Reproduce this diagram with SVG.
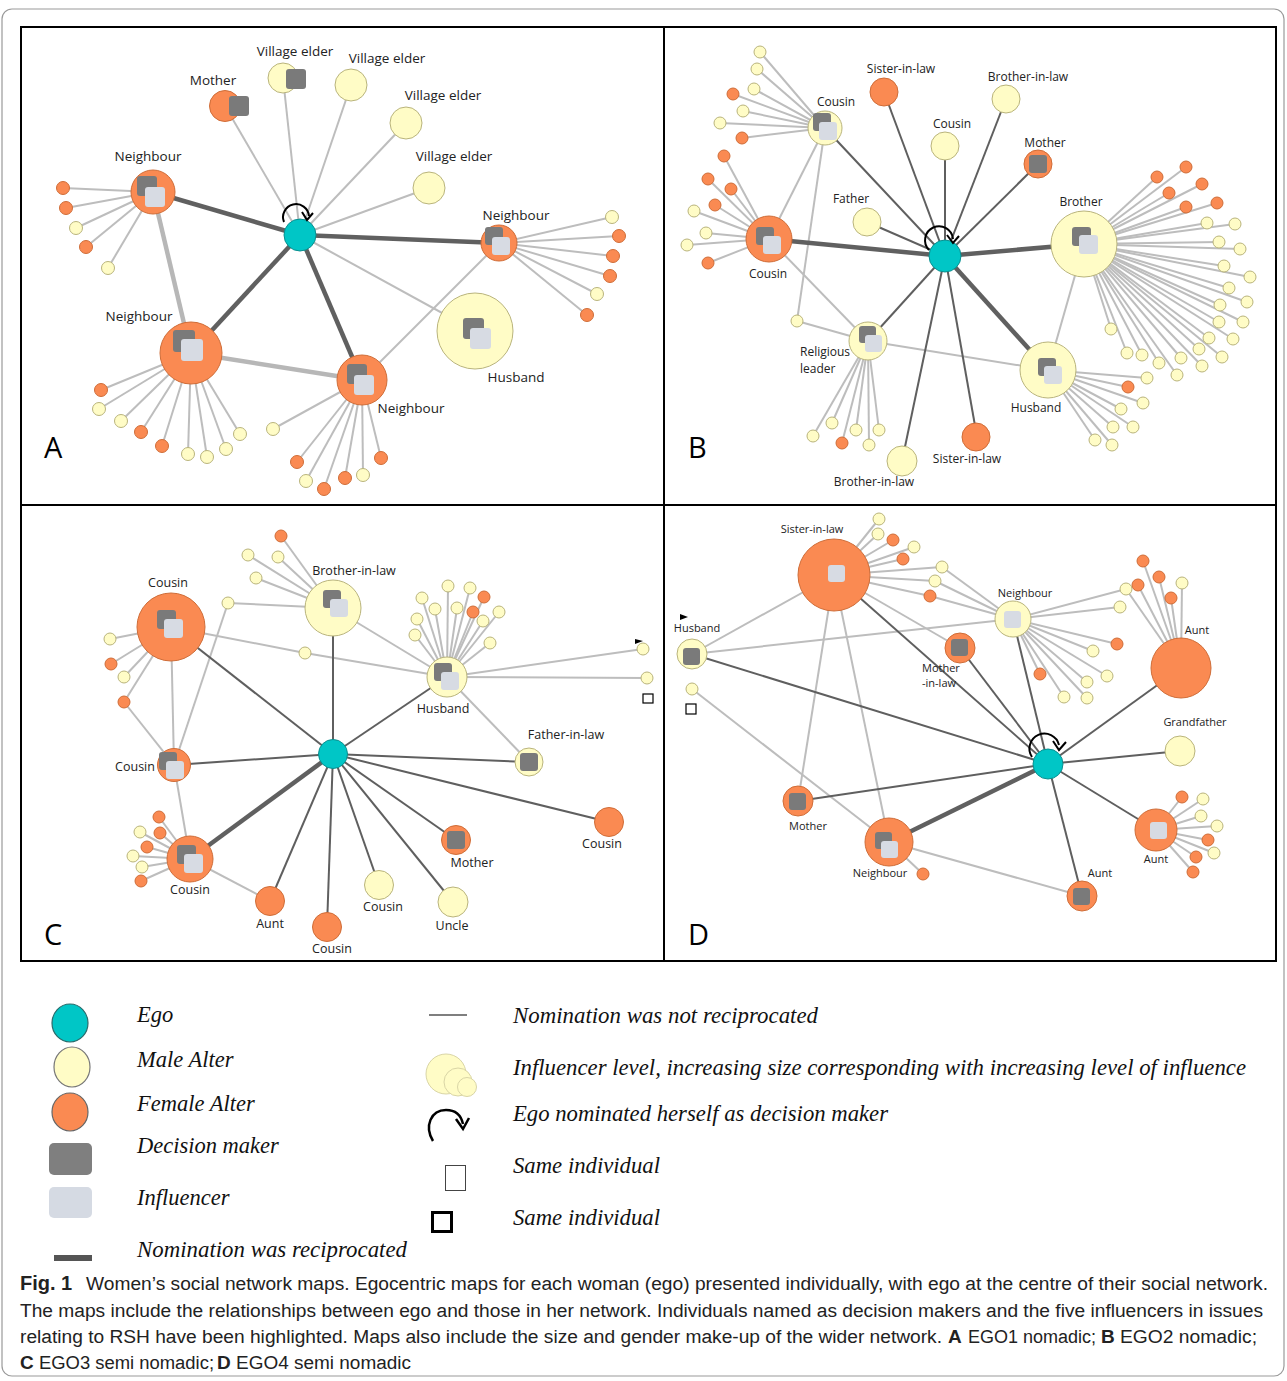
<svg xmlns="http://www.w3.org/2000/svg" width="1287" height="1381" viewBox="0 0 1287 1381">
<style>
.m{fill:#fffcc6;stroke:#b9b47c;stroke-width:1}
.f{fill:#fa8a52;stroke:#cf6d38;stroke-width:1}
.e{fill:#00c6c6;stroke:#0b8f8f;stroke-width:1}
.dm{fill:#7a7a7a}
.in{fill:#d7dbe3}
.lt{stroke:#bdbdbd;stroke-width:2}
.lk{stroke:#b7b7b7;stroke-width:4.5}
.dk{stroke:#5f5f5f;stroke-width:2}
.rc{stroke:#606060;stroke-width:4.5}
.loop{fill:none;stroke:#000;stroke-width:2}
.t{font-family:"Open Sans","DejaVu Sans",sans-serif;fill:#222;text-anchor:middle}
.ta{font-size:13.5px}
.tb{font-size:12px}
.tc{font-size:12.5px}
.td{font-size:11px}
.pl{font-family:"Open Sans","Liberation Sans",sans-serif;font-size:29px;fill:#000}
.lg{font-family:"Liberation Serif",serif;font-style:italic;font-size:22.5px;fill:#111}
.cap{font-family:"Liberation Sans",sans-serif;font-size:18px;fill:#222}
.cb{font-weight:bold;font-size:19px}
</style>
<rect x="2" y="9" width="1282" height="1367" rx="10" fill="#fff" stroke="#9a9a9a" stroke-width="1.2"/>
<rect x="21" y="27" width="1255" height="934" fill="none" stroke="#000" stroke-width="2"/>
<line x1="664" y1="27" x2="664" y2="961" stroke="#000" stroke-width="2"/>
<line x1="21" y1="505" x2="1276" y2="505" stroke="#000" stroke-width="2"/>
<text class="pl" x="44" y="458">A</text>
<text class="pl" x="688" y="458">B</text>
<text class="pl" x="44" y="945">C</text>
<text class="pl" x="688" y="945">D</text>

<g id="connectors" fill="none">
<!-- Panel A -->
<line class="lt" x1="300" y1="235" x2="225" y2="106"/>
<line class="lt" x1="300" y1="235" x2="283" y2="78"/>
<line class="lt" x1="300" y1="235" x2="351" y2="85"/>
<line class="lt" x1="300" y1="235" x2="406" y2="123"/>
<line class="lt" x1="300" y1="235" x2="429" y2="188"/>
<line class="lt" x1="300" y1="235" x2="475" y2="331"/>
<line class="lt" x1="362" y1="380" x2="499" y2="243"/>
<line class="lk" x1="153" y1="192" x2="191" y2="353"/>
<line class="lk" x1="191" y1="353" x2="362" y2="380"/>
<line class="rc" x1="300" y1="235" x2="153" y2="192"/>
<line class="rc" x1="300" y1="235" x2="499" y2="243"/>
<line class="rc" x1="300" y1="235" x2="191" y2="353"/>
<line class="rc" x1="300" y1="235" x2="362" y2="380"/>
<line class="lt" x1="153" y1="192" x2="63" y2="188"/>
<line class="lt" x1="153" y1="192" x2="66" y2="208"/>
<line class="lt" x1="153" y1="192" x2="76" y2="228"/>
<line class="lt" x1="153" y1="192" x2="86" y2="247"/>
<line class="lt" x1="153" y1="192" x2="108" y2="268"/>
<line class="lt" x1="191" y1="353" x2="101" y2="390"/>
<line class="lt" x1="191" y1="353" x2="99" y2="409"/>
<line class="lt" x1="191" y1="353" x2="121" y2="421"/>
<line class="lt" x1="191" y1="353" x2="141" y2="432"/>
<line class="lt" x1="191" y1="353" x2="162" y2="446"/>
<line class="lt" x1="191" y1="353" x2="188" y2="454"/>
<line class="lt" x1="191" y1="353" x2="207" y2="457"/>
<line class="lt" x1="191" y1="353" x2="226" y2="449"/>
<line class="lt" x1="191" y1="353" x2="240" y2="434"/>
<line class="lt" x1="362" y1="380" x2="273" y2="429"/>
<line class="lt" x1="362" y1="380" x2="297" y2="462"/>
<line class="lt" x1="362" y1="380" x2="306" y2="481"/>
<line class="lt" x1="362" y1="380" x2="324" y2="489"/>
<line class="lt" x1="362" y1="380" x2="345" y2="478"/>
<line class="lt" x1="362" y1="380" x2="363" y2="475"/>
<line class="lt" x1="362" y1="380" x2="381" y2="458"/>
<line class="lt" x1="499" y1="243" x2="612" y2="217"/>
<line class="lt" x1="499" y1="243" x2="619" y2="236"/>
<line class="lt" x1="499" y1="243" x2="613" y2="256"/>
<line class="lt" x1="499" y1="243" x2="610" y2="276"/>
<line class="lt" x1="499" y1="243" x2="597" y2="294"/>
<line class="lt" x1="499" y1="243" x2="587" y2="315"/>
<!-- Panel B -->
<line class="lt" x1="825" y1="128" x2="769" y2="239"/>
<line class="lt" x1="825" y1="128" x2="797" y2="321"/>
<line class="lt" x1="797" y1="321" x2="868" y2="341"/>
<line class="lt" x1="769" y1="239" x2="868" y2="341"/>
<line class="lt" x1="868" y1="341" x2="1048" y2="370"/>
<line class="lt" x1="1084" y1="244" x2="1048" y2="370"/>
<line class="dk" x1="945" y1="256" x2="825" y2="128"/>
<line class="dk" x1="945" y1="256" x2="867" y2="222"/>
<line class="dk" x1="945" y1="256" x2="884" y2="92"/>
<line class="dk" x1="945" y1="256" x2="945" y2="146"/>
<line class="dk" x1="945" y1="256" x2="1006" y2="99"/>
<line class="dk" x1="945" y1="256" x2="1038" y2="164"/>
<line class="dk" x1="945" y1="256" x2="868" y2="341"/>
<line class="dk" x1="945" y1="256" x2="902" y2="461"/>
<line class="dk" x1="945" y1="256" x2="977" y2="437"/>
<line class="rc" x1="945" y1="256" x2="769" y2="239"/>
<line class="rc" x1="945" y1="256" x2="1084" y2="244"/>
<line class="rc" x1="945" y1="256" x2="1048" y2="370"/>
<line class="lt" x1="825" y1="128" x2="760" y2="52"/>
<line class="lt" x1="825" y1="128" x2="757" y2="69"/>
<line class="lt" x1="825" y1="128" x2="754" y2="89"/>
<line class="lt" x1="825" y1="128" x2="733" y2="94"/>
<line class="lt" x1="825" y1="128" x2="743" y2="111"/>
<line class="lt" x1="825" y1="128" x2="720" y2="123"/>
<line class="lt" x1="825" y1="128" x2="742" y2="138"/>
<line class="lt" x1="769" y1="239" x2="724" y2="156"/>
<line class="lt" x1="769" y1="239" x2="708" y2="179"/>
<line class="lt" x1="769" y1="239" x2="731" y2="189"/>
<line class="lt" x1="769" y1="239" x2="715" y2="205"/>
<line class="lt" x1="769" y1="239" x2="694" y2="211"/>
<line class="lt" x1="769" y1="239" x2="706" y2="233"/>
<line class="lt" x1="769" y1="239" x2="687" y2="245"/>
<line class="lt" x1="769" y1="239" x2="708" y2="263"/>
<line class="lt" x1="868" y1="341" x2="813" y2="436"/>
<line class="lt" x1="868" y1="341" x2="832" y2="423"/>
<line class="lt" x1="868" y1="341" x2="842" y2="443"/>
<line class="lt" x1="868" y1="341" x2="856" y2="430"/>
<line class="lt" x1="868" y1="341" x2="869" y2="445"/>
<line class="lt" x1="868" y1="341" x2="879" y2="430"/>
<g class="lt">
<line x1="1084" y1="244" x2="1157" y2="177"/><line x1="1084" y1="244" x2="1186" y2="167"/><line x1="1084" y1="244" x2="1169" y2="193"/><line x1="1084" y1="244" x2="1202" y2="184"/><line x1="1084" y1="244" x2="1186" y2="207"/><line x1="1084" y1="244" x2="1217" y2="203"/>
<line x1="1084" y1="244" x2="1207" y2="223"/><line x1="1084" y1="244" x2="1235" y2="224"/><line x1="1084" y1="244" x2="1219" y2="242"/><line x1="1084" y1="244" x2="1240" y2="249"/><line x1="1084" y1="244" x2="1224" y2="266"/><line x1="1084" y1="244" x2="1250" y2="277"/><line x1="1084" y1="244" x2="1229" y2="288"/><line x1="1084" y1="244" x2="1247" y2="302"/><line x1="1084" y1="244" x2="1220" y2="305"/><line x1="1084" y1="244" x2="1243" y2="322"/><line x1="1084" y1="244" x2="1219" y2="322"/><line x1="1084" y1="244" x2="1209" y2="338"/><line x1="1084" y1="244" x2="1233" y2="339"/><line x1="1084" y1="244" x2="1199" y2="349"/><line x1="1084" y1="244" x2="1222" y2="357"/><line x1="1084" y1="244" x2="1181" y2="358"/><line x1="1084" y1="244" x2="1202" y2="366"/><line x1="1084" y1="244" x2="1177" y2="375"/><line x1="1084" y1="244" x2="1159" y2="363"/><line x1="1084" y1="244" x2="1142" y2="355"/><line x1="1084" y1="244" x2="1127" y2="353"/><line x1="1084" y1="244" x2="1111" y2="329"/>
<line x1="1048" y1="370" x2="1147" y2="378"/><line x1="1048" y1="370" x2="1128" y2="387"/><line x1="1048" y1="370" x2="1143" y2="403"/><line x1="1048" y1="370" x2="1121" y2="409"/><line x1="1048" y1="370" x2="1133" y2="427"/><line x1="1048" y1="370" x2="1113" y2="427"/><line x1="1048" y1="370" x2="1095" y2="440"/><line x1="1048" y1="370" x2="1112" y2="445"/>
</g>
<!-- Panel C -->
<g class="lt">
<line x1="171" y1="627" x2="174" y2="765"/><line x1="174" y1="765" x2="190" y2="859"/><line x1="190" y1="859" x2="270" y2="901"/>
<line x1="228" y1="603" x2="333" y2="608"/><line x1="228" y1="603" x2="174" y2="765"/>
<line x1="171" y1="627" x2="305" y2="653"/><line x1="305" y1="653" x2="447" y2="677"/>
<line x1="333" y1="608" x2="447" y2="677"/><line x1="447" y1="677" x2="529" y2="762"/>
<line x1="124" y1="702" x2="174" y2="765"/>
<line x1="171" y1="627" x2="110" y2="639"/><line x1="171" y1="627" x2="111" y2="664"/><line x1="171" y1="627" x2="124" y2="677"/><line x1="171" y1="627" x2="124" y2="702"/>
<line x1="333" y1="608" x2="281" y2="536"/><line x1="333" y1="608" x2="248" y2="555"/><line x1="333" y1="608" x2="278" y2="557"/><line x1="333" y1="608" x2="256" y2="578"/>
<line x1="447" y1="677" x2="448" y2="586"/><line x1="447" y1="677" x2="470" y2="588"/><line x1="447" y1="677" x2="484" y2="597"/><line x1="447" y1="677" x2="422" y2="598"/><line x1="447" y1="677" x2="435" y2="609"/><line x1="447" y1="677" x2="457" y2="608"/><line x1="447" y1="677" x2="473" y2="612"/><line x1="447" y1="677" x2="499" y2="612"/><line x1="447" y1="677" x2="417" y2="619"/><line x1="447" y1="677" x2="483" y2="621"/><line x1="447" y1="677" x2="415" y2="635"/><line x1="447" y1="677" x2="490" y2="643"/><line x1="447" y1="677" x2="643" y2="649"/><line x1="447" y1="677" x2="647" y2="678"/>
<line x1="190" y1="859" x2="159" y2="817"/><line x1="190" y1="859" x2="140" y2="832"/><line x1="190" y1="859" x2="160" y2="833"/><line x1="190" y1="859" x2="147" y2="847"/><line x1="190" y1="859" x2="133" y2="856"/><line x1="190" y1="859" x2="142" y2="867"/><line x1="190" y1="859" x2="141" y2="881"/>
</g>
<g class="dk">
<line x1="333" y1="754" x2="171" y2="627"/><line x1="333" y1="754" x2="174" y2="765"/><line x1="333" y1="754" x2="333" y2="608"/><line x1="333" y1="754" x2="447" y2="677"/><line x1="333" y1="754" x2="529" y2="762"/><line x1="333" y1="754" x2="609" y2="822"/><line x1="333" y1="754" x2="456" y2="840"/><line x1="333" y1="754" x2="453" y2="902"/><line x1="333" y1="754" x2="379" y2="885"/><line x1="333" y1="754" x2="327" y2="927"/><line x1="333" y1="754" x2="270" y2="901"/>
</g>
<line class="rc" x1="333" y1="754" x2="190" y2="859"/>
<!-- Panel D -->
<g class="lt">
<line x1="692" y1="654" x2="834" y2="575"/><line x1="692" y1="654" x2="1013" y2="619"/><line x1="692" y1="689" x2="889" y2="842"/>
<line x1="834" y1="575" x2="798" y2="801"/><line x1="834" y1="575" x2="889" y2="842"/><line x1="834" y1="575" x2="960" y2="648"/>
<line x1="889" y1="842" x2="1082" y2="896"/><line x1="889" y1="842" x2="923" y2="874"/>
<line x1="834" y1="575" x2="879" y2="519"/><line x1="834" y1="575" x2="878" y2="534"/><line x1="834" y1="575" x2="893" y2="540"/><line x1="834" y1="575" x2="914" y2="547"/><line x1="834" y1="575" x2="903" y2="559"/><line x1="834" y1="575" x2="942" y2="567"/><line x1="834" y1="575" x2="935" y2="581"/><line x1="834" y1="575" x2="930" y2="596"/>
<line x1="1013" y1="619" x2="942" y2="567"/><line x1="1013" y1="619" x2="935" y2="581"/><line x1="1013" y1="619" x2="930" y2="596"/>
<line x1="1013" y1="619" x2="1126" y2="589"/><line x1="1013" y1="619" x2="1120" y2="607"/><line x1="1013" y1="619" x2="1117" y2="644"/><line x1="1013" y1="619" x2="1093" y2="651"/><line x1="1013" y1="619" x2="1040" y2="674"/><line x1="1013" y1="619" x2="1107" y2="676"/><line x1="1013" y1="619" x2="1087" y2="682"/><line x1="1013" y1="619" x2="1064" y2="697"/><line x1="1013" y1="619" x2="1087" y2="698"/>
<line x1="1181" y1="668" x2="1143" y2="561"/><line x1="1181" y1="668" x2="1159" y2="577"/><line x1="1181" y1="668" x2="1138" y2="585"/><line x1="1181" y1="668" x2="1182" y2="583"/><line x1="1181" y1="668" x2="1171" y2="598"/><line x1="1181" y1="668" x2="1126" y2="589"/>
<line x1="1156" y1="830" x2="1182" y2="797"/><line x1="1156" y1="830" x2="1203" y2="799"/><line x1="1156" y1="830" x2="1201" y2="816"/><line x1="1156" y1="830" x2="1217" y2="826"/><line x1="1156" y1="830" x2="1208" y2="840"/><line x1="1156" y1="830" x2="1214" y2="853"/><line x1="1156" y1="830" x2="1196" y2="857"/><line x1="1156" y1="830" x2="1193" y2="872"/>
</g>
<g class="dk">
<line x1="1048" y1="764" x2="834" y2="575"/><line x1="1048" y1="764" x2="692" y2="654"/><line x1="1048" y1="764" x2="960" y2="648"/><line x1="1048" y1="764" x2="1013" y2="619"/><line x1="1048" y1="764" x2="798" y2="801"/><line x1="1048" y1="764" x2="1181" y2="668"/><line x1="1048" y1="764" x2="1180" y2="751"/><line x1="1048" y1="764" x2="1156" y2="830"/><line x1="1048" y1="764" x2="1082" y2="896"/>
</g>
<line class="rc" x1="1048" y1="764" x2="889" y2="842"/>
</g>

<!-- ===== Panel A nodes ===== -->
<g id="A-ego"><circle class="e" cx="300" cy="235" r="16"/><path class="loop" d="M284,222 A13,13 0 1 1 309,216"/><polyline class="loop" points="302,212 307,220 313,213"/></g>
<g id="A-mother"><circle class="f" cx="225" cy="106" r="15.5"/><rect class="dm" x="229" y="96" width="20" height="20" rx="3"/><text class="t ta" x="213" y="85">Mother</text></g>
<g id="A-elder1"><circle class="m" cx="283" cy="78" r="15"/><rect class="dm" x="286" y="69" width="20" height="20" rx="3"/><text class="t ta" x="295" y="56">Village elder</text></g>
<g id="A-elder2"><circle class="m" cx="351" cy="85" r="16"/><text class="t ta" x="387" y="63">Village elder</text></g>
<g id="A-elder3"><circle class="m" cx="406" cy="123" r="16"/><text class="t ta" x="443" y="100">Village elder</text></g>
<g id="A-elder4"><circle class="m" cx="429" cy="188" r="16"/><text class="t ta" x="454" y="161">Village elder</text></g>
<g id="A-neigh1"><circle class="f" cx="153" cy="192" r="22"/><rect class="dm" x="137" y="176" width="20" height="20" rx="3"/><rect class="in" x="145" y="187" width="20" height="20" rx="3"/><text class="t ta" x="148" y="161">Neighbour</text></g>
<g id="A-neigh2"><circle class="f" cx="191" cy="353" r="31"/><rect class="dm" x="173" y="330" width="22" height="22" rx="3"/><rect class="in" x="181" y="339" width="22" height="22" rx="3"/><text class="t ta" x="139" y="321">Neighbour</text></g>
<g id="A-neigh3"><circle class="f" cx="362" cy="380" r="25"/><rect class="dm" x="347" y="364" width="20" height="20" rx="3"/><rect class="in" x="354" y="375" width="20" height="20" rx="3"/><text class="t ta" x="411" y="413">Neighbour</text></g>
<g id="A-neigh4"><circle class="f" cx="499" cy="243" r="18"/><rect class="dm" x="485" y="227" width="18" height="18" rx="3"/><rect class="in" x="492" y="237" width="18" height="18" rx="3"/><text class="t ta" x="516" y="220">Neighbour</text></g>
<g id="A-husband"><circle class="m" cx="475" cy="331" r="38"/><rect class="dm" x="463" y="318" width="21" height="21" rx="3"/><rect class="in" x="470" y="328" width="21" height="21" rx="3"/><text class="t ta" x="516" y="382">Husband</text></g>
<g id="A-n1-l1"><circle class="f" cx="63" cy="188" r="6.5"/></g>
<g id="A-n1-l2"><circle class="f" cx="66" cy="208" r="6.5"/></g>
<g id="A-n1-l3"><circle class="m" cx="76" cy="228" r="6.5"/></g>
<g id="A-n1-l4"><circle class="f" cx="86" cy="247" r="6.5"/></g>
<g id="A-n1-l5"><circle class="m" cx="108" cy="268" r="6.5"/></g>
<g id="A-n2-l1"><circle class="f" cx="101" cy="390" r="6.5"/></g>
<g id="A-n2-l2"><circle class="m" cx="99" cy="409" r="6.5"/></g>
<g id="A-n2-l3"><circle class="m" cx="121" cy="421" r="6.5"/></g>
<g id="A-n2-l4"><circle class="f" cx="141" cy="432" r="6.5"/></g>
<g id="A-n2-l5"><circle class="f" cx="162" cy="446" r="6.5"/></g>
<g id="A-n2-l6"><circle class="m" cx="188" cy="454" r="6.5"/></g>
<g id="A-n2-l7"><circle class="m" cx="207" cy="457" r="6.5"/></g>
<g id="A-n2-l8"><circle class="m" cx="226" cy="449" r="6.5"/></g>
<g id="A-n2-l9"><circle class="m" cx="240" cy="434" r="6.5"/></g>
<g id="A-n3-l1"><circle class="m" cx="273" cy="429" r="6.5"/></g>
<g id="A-n3-l2"><circle class="f" cx="297" cy="462" r="6.5"/></g>
<g id="A-n3-l3"><circle class="m" cx="306" cy="481" r="6.5"/></g>
<g id="A-n3-l4"><circle class="f" cx="324" cy="489" r="6.5"/></g>
<g id="A-n3-l5"><circle class="f" cx="345" cy="478" r="6.5"/></g>
<g id="A-n3-l6"><circle class="m" cx="363" cy="475" r="6.5"/></g>
<g id="A-n3-l7"><circle class="f" cx="381" cy="458" r="6.5"/></g>
<g id="A-n4-l1"><circle class="m" cx="612" cy="217" r="6.5"/></g>
<g id="A-n4-l2"><circle class="f" cx="619" cy="236" r="6.5"/></g>
<g id="A-n4-l3"><circle class="f" cx="613" cy="256" r="6.5"/></g>
<g id="A-n4-l4"><circle class="f" cx="610" cy="276" r="6.5"/></g>
<g id="A-n4-l5"><circle class="m" cx="597" cy="294" r="6.5"/></g>
<g id="A-n4-l6"><circle class="f" cx="587" cy="315" r="6.5"/></g>

<!-- ===== Panel B nodes ===== -->
<g id="B-ego"><circle class="e" cx="945" cy="256" r="16"/><path class="loop" d="M929,250 A14,14 0 1 1 953,239"/><polyline class="loop" points="947,235 953,243 959,236"/></g>
<g id="B-cousin1"><circle class="m" cx="825" cy="128" r="17"/><rect class="dm" x="813" y="113" width="18" height="18" rx="3"/><rect class="in" x="819" y="122" width="18" height="18" rx="3"/><text class="t tb" x="836" y="106">Cousin</text></g>
<g id="B-cousin2"><circle class="f" cx="769" cy="239" r="23"/><rect class="dm" x="756" y="227" width="18" height="18" rx="3"/><rect class="in" x="763" y="236" width="18" height="18" rx="3"/><text class="t tb" x="768" y="278">Cousin</text></g>
<g id="B-father"><circle class="m" cx="867" cy="222" r="14"/><text class="t tb" x="851" y="203">Father</text></g>
<g id="B-sil1"><circle class="f" cx="884" cy="92" r="14"/><text class="t tb" x="901" y="73">Sister-in-law</text></g>
<g id="B-cousin3"><circle class="m" cx="945" cy="146" r="14"/><text class="t tb" x="952" y="128">Cousin</text></g>
<g id="B-religious"><circle class="m" cx="868" cy="341" r="19"/><rect class="dm" x="859" y="326" width="17" height="17" rx="3"/><rect class="in" x="865" y="335" width="17" height="17" rx="3"/><text class="t tb" x="800" y="356" style="text-anchor:start">Religious</text><text class="t tb" x="800" y="373" style="text-anchor:start">leader</text></g>
<g id="B-j1"><circle class="m" cx="797" cy="321" r="6"/></g>
<g id="B-bil1"><circle class="m" cx="902" cy="461" r="15"/><text class="t tb" x="874" y="486">Brother-in-law</text></g>
<g id="B-sil2"><circle class="f" cx="976" cy="437" r="14"/><text class="t tb" x="967" y="463">Sister-in-law</text></g>
<g id="B-bil2"><circle class="m" cx="1006" cy="99" r="14"/><text class="t tb" x="1028" y="81">Brother-in-law</text></g>
<g id="B-mother"><circle class="f" cx="1038" cy="164" r="14"/><rect class="dm" x="1029" y="155" width="18" height="18" rx="3"/><text class="t tb" x="1045" y="147">Mother</text></g>
<g id="B-brother"><circle class="m" cx="1084" cy="244" r="33"/><rect class="dm" x="1072" y="227" width="19" height="19" rx="3"/><rect class="in" x="1079" y="235" width="19" height="19" rx="3"/><text class="t tb" x="1081" y="206">Brother</text></g>
<g id="B-husband"><circle class="m" cx="1048" cy="370" r="28"/><rect class="dm" x="1038" y="358" width="18" height="18" rx="3"/><rect class="in" x="1044" y="366" width="18" height="18" rx="3"/><text class="t tb" x="1036" y="412">Husband</text></g>
<g id="B-c1-l1"><circle class="m" cx="760" cy="52" r="6"/></g>
<g id="B-c1-l2"><circle class="m" cx="757" cy="69" r="6"/></g>
<g id="B-c1-l3"><circle class="m" cx="754" cy="89" r="6"/></g>
<g id="B-c1-l4"><circle class="f" cx="733" cy="94" r="6"/></g>
<g id="B-c1-l5"><circle class="m" cx="743" cy="111" r="6"/></g>
<g id="B-c1-l6"><circle class="m" cx="720" cy="123" r="6"/></g>
<g id="B-c1-l7"><circle class="f" cx="742" cy="138" r="6"/></g>
<g id="B-c2-l1"><circle class="f" cx="724" cy="156" r="6"/></g>
<g id="B-c2-l2"><circle class="f" cx="708" cy="179" r="6"/></g>
<g id="B-c2-l3"><circle class="f" cx="731" cy="189" r="6"/></g>
<g id="B-c2-l4"><circle class="f" cx="715" cy="205" r="6"/></g>
<g id="B-c2-l5"><circle class="m" cx="694" cy="211" r="6"/></g>
<g id="B-c2-l6"><circle class="m" cx="706" cy="233" r="6"/></g>
<g id="B-c2-l7"><circle class="m" cx="687" cy="245" r="6"/></g>
<g id="B-c2-l8"><circle class="f" cx="708" cy="263" r="6"/></g>
<g id="B-r-l1"><circle class="m" cx="813" cy="436" r="6"/></g>
<g id="B-r-l2"><circle class="m" cx="832" cy="423" r="6"/></g>
<g id="B-r-l3"><circle class="f" cx="842" cy="443" r="6"/></g>
<g id="B-r-l4"><circle class="m" cx="856" cy="430" r="6"/></g>
<g id="B-r-l5"><circle class="m" cx="869" cy="445" r="6"/></g>
<g id="B-r-l6"><circle class="m" cx="879" cy="430" r="6"/></g>
<g id="B-b-l1"><circle class="f" cx="1157" cy="177" r="6"/></g>
<g id="B-b-l2"><circle class="f" cx="1186" cy="167" r="6"/></g>
<g id="B-b-l3"><circle class="f" cx="1169" cy="193" r="6"/></g>
<g id="B-b-l4"><circle class="f" cx="1202" cy="184" r="6"/></g>
<g id="B-b-l5"><circle class="f" cx="1186" cy="207" r="6"/></g>
<g id="B-b-l6"><circle class="f" cx="1217" cy="203" r="6"/></g>
<g id="B-b-l7"><circle class="m" cx="1207" cy="223" r="6"/></g>
<g id="B-b-l8"><circle class="m" cx="1235" cy="224" r="6"/></g>
<g id="B-b-l9"><circle class="m" cx="1219" cy="242" r="6"/></g>
<g id="B-b-l10"><circle class="m" cx="1240" cy="249" r="6"/></g>
<g id="B-b-l11"><circle class="m" cx="1224" cy="266" r="6"/></g>
<g id="B-b-l12"><circle class="m" cx="1250" cy="277" r="6"/></g>
<g id="B-b-l13"><circle class="m" cx="1229" cy="288" r="6"/></g>
<g id="B-b-l14"><circle class="m" cx="1247" cy="302" r="6"/></g>
<g id="B-b-l15"><circle class="m" cx="1220" cy="305" r="6"/></g>
<g id="B-b-l16"><circle class="m" cx="1243" cy="322" r="6"/></g>
<g id="B-b-l17"><circle class="m" cx="1219" cy="322" r="6"/></g>
<g id="B-b-l18"><circle class="m" cx="1209" cy="338" r="6"/></g>
<g id="B-b-l19"><circle class="m" cx="1233" cy="339" r="6"/></g>
<g id="B-b-l20"><circle class="m" cx="1199" cy="349" r="6"/></g>
<g id="B-b-l21"><circle class="m" cx="1222" cy="357" r="6"/></g>
<g id="B-b-l22"><circle class="m" cx="1181" cy="358" r="6"/></g>
<g id="B-b-l23"><circle class="m" cx="1202" cy="366" r="6"/></g>
<g id="B-b-l24"><circle class="m" cx="1177" cy="375" r="6"/></g>
<g id="B-b-l25"><circle class="m" cx="1159" cy="363" r="6"/></g>
<g id="B-b-l26"><circle class="m" cx="1142" cy="355" r="6"/></g>
<g id="B-b-l27"><circle class="m" cx="1127" cy="353" r="6"/></g>
<g id="B-b-l28"><circle class="m" cx="1111" cy="329" r="6"/></g>
<g id="B-h-l1"><circle class="m" cx="1147" cy="378" r="6"/></g>
<g id="B-h-l2"><circle class="f" cx="1128" cy="387" r="6"/></g>
<g id="B-h-l3"><circle class="m" cx="1143" cy="403" r="6"/></g>
<g id="B-h-l4"><circle class="m" cx="1121" cy="409" r="6"/></g>
<g id="B-h-l5"><circle class="m" cx="1133" cy="427" r="6"/></g>
<g id="B-h-l6"><circle class="m" cx="1113" cy="427" r="6"/></g>
<g id="B-h-l7"><circle class="m" cx="1095" cy="440" r="6"/></g>
<g id="B-h-l8"><circle class="m" cx="1112" cy="445" r="6"/></g>

<!-- ===== Panel C nodes ===== -->
<g id="C-ego"><circle class="e" cx="333" cy="754" r="14.5"/></g>
<g id="C-cousin1"><circle class="f" cx="171" cy="627" r="34"/><rect class="dm" x="157" y="610" width="19" height="19" rx="3"/><rect class="in" x="164" y="619" width="19" height="19" rx="3"/><text class="t tc" x="168" y="587">Cousin</text></g>
<g id="C-cousin2"><circle class="f" cx="174" cy="765" r="16.5"/><rect class="dm" x="159" y="752" width="18" height="18" rx="3"/><rect class="in" x="166" y="761" width="18" height="18" rx="3"/><text class="t tc" x="135" y="771">Cousin</text></g>
<g id="C-cousin3"><circle class="f" cx="190" cy="859" r="23"/><rect class="dm" x="177" y="845" width="19" height="19" rx="3"/><rect class="in" x="184" y="854" width="19" height="19" rx="3"/><text class="t tc" x="190" y="894">Cousin</text></g>
<g id="C-aunt"><circle class="f" cx="270" cy="901" r="14.5"/><text class="t tc" x="270" y="928">Aunt</text></g>
<g id="C-cousin4"><circle class="f" cx="327" cy="927" r="14.5"/><text class="t tc" x="332" y="953">Cousin</text></g>
<g id="C-brotherinlaw"><circle class="m" cx="333" cy="608" r="28"/><rect class="dm" x="323" y="590" width="18" height="18" rx="3"/><rect class="in" x="330" y="599" width="18" height="18" rx="3"/><text class="t tc" x="354" y="575">Brother-in-law</text></g>
<g id="C-husband"><circle class="m" cx="447" cy="677" r="20"/><rect class="dm" x="434" y="663" width="18" height="18" rx="3"/><rect class="in" x="441" y="672" width="18" height="18" rx="3"/><text class="t tc" x="443" y="713">Husband</text></g>
<g id="C-fatherinlaw"><circle class="m" cx="529" cy="762" r="14"/><rect class="dm" x="520" y="753" width="18" height="18" rx="3"/><text class="t tc" x="566" y="739">Father-in-law</text></g>
<g id="C-cousin5"><circle class="f" cx="609" cy="822" r="14.5"/><text class="t tc" x="602" y="848">Cousin</text></g>
<g id="C-mother"><circle class="f" cx="456" cy="840" r="14.5"/><rect class="dm" x="447" y="831" width="18" height="18" rx="3"/><text class="t tc" x="472" y="867">Mother</text></g>
<g id="C-cousin6"><circle class="m" cx="379" cy="885" r="14.5"/><text class="t tc" x="383" y="911">Cousin</text></g>
<g id="C-uncle"><circle class="m" cx="453" cy="902" r="15"/><text class="t tc" x="452" y="930">Uncle</text></g>
<g id="C-j1"><circle class="m" cx="228" cy="603" r="6"/></g>
<g id="C-j2"><circle class="m" cx="305" cy="653" r="6"/></g>
<g id="C-c1-l1"><circle class="m" cx="110" cy="639" r="6"/></g>
<g id="C-c1-l2"><circle class="f" cx="111" cy="664" r="6"/></g>
<g id="C-c1-l3"><circle class="m" cx="124" cy="677" r="6"/></g>
<g id="C-c1-l4"><circle class="f" cx="124" cy="702" r="6"/></g>
<g id="C-bl-l1"><circle class="f" cx="281" cy="536" r="6"/></g>
<g id="C-bl-l2"><circle class="m" cx="248" cy="555" r="6"/></g>
<g id="C-bl-l3"><circle class="m" cx="278" cy="557" r="6"/></g>
<g id="C-bl-l4"><circle class="m" cx="256" cy="578" r="6"/></g>
<g id="C-h-l1"><circle class="m" cx="448" cy="586" r="6"/></g>
<g id="C-h-l2"><circle class="m" cx="470" cy="588" r="6"/></g>
<g id="C-h-l3"><circle class="f" cx="484" cy="597" r="6"/></g>
<g id="C-h-l4"><circle class="m" cx="422" cy="598" r="6"/></g>
<g id="C-h-l5"><circle class="m" cx="435" cy="609" r="6"/></g>
<g id="C-h-l6"><circle class="m" cx="457" cy="608" r="6"/></g>
<g id="C-h-l7"><circle class="f" cx="473" cy="612" r="6"/></g>
<g id="C-h-l8"><circle class="m" cx="499" cy="612" r="6"/></g>
<g id="C-h-l9"><circle class="m" cx="417" cy="619" r="6"/></g>
<g id="C-h-l10"><circle class="m" cx="483" cy="621" r="6"/></g>
<g id="C-h-l11"><circle class="m" cx="415" cy="635" r="6"/></g>
<g id="C-h-l12"><circle class="m" cx="490" cy="643" r="6"/></g>
<g id="C-h-l13"><circle class="m" cx="643" cy="649" r="6"/><polygon points="635,639 643,641 635,644" fill="#000"/></g>
<g id="C-h-l14"><circle class="m" cx="647" cy="678" r="6"/><rect x="643" y="694" width="10" height="9" fill="none" stroke="#000" stroke-width="1.2"/></g>
<g id="C-c3-l1"><circle class="f" cx="159" cy="817" r="6"/></g>
<g id="C-c3-l2"><circle class="m" cx="140" cy="832" r="6"/></g>
<g id="C-c3-l3"><circle class="f" cx="160" cy="833" r="6"/></g>
<g id="C-c3-l4"><circle class="f" cx="147" cy="847" r="6"/></g>
<g id="C-c3-l5"><circle class="m" cx="133" cy="856" r="6"/></g>
<g id="C-c3-l6"><circle class="m" cx="142" cy="867" r="6"/></g>
<g id="C-c3-l7"><circle class="f" cx="141" cy="881" r="6"/></g>

<!-- ===== Panel D nodes ===== -->
<g id="D-ego"><circle class="e" cx="1048" cy="764" r="15"/><path class="loop" d="M1032,757 A15,15 0 1 1 1059,745"/><polyline class="loop" points="1053,741 1059,750 1066,742"/></g>
<g id="D-sisterinlaw"><circle class="f" cx="834" cy="575" r="36"/><rect class="in" x="828" y="565" width="17" height="17" rx="3"/><text class="t td" x="812" y="533">Sister-in-law</text></g>
<g id="D-husband"><circle class="m" cx="692" cy="654" r="15"/><rect class="dm" x="683" y="648" width="17" height="17" rx="3"/><polygon points="680,614 688,617 680,620" fill="#000"/><text class="t td" x="697" y="632">Husband</text></g>
<g id="D-j1"><circle class="m" cx="692" cy="689" r="6"/><rect x="686" y="704" width="10" height="10" fill="none" stroke="#000" stroke-width="1.2"/></g>
<g id="D-motherinlaw"><circle class="f" cx="960" cy="648" r="15"/><rect class="dm" x="951" y="639" width="17" height="17" rx="3"/><text class="t td" x="922" y="672" style="text-anchor:start">Mother</text><text class="t td" x="922" y="687" style="text-anchor:start">-in-law</text></g>
<g id="D-mother"><circle class="f" cx="798" cy="801" r="15"/><rect class="dm" x="789" y="793" width="17" height="17" rx="3"/><text class="t td" x="808" y="830">Mother</text></g>
<g id="D-neighbour2"><circle class="f" cx="889" cy="842" r="24"/><rect class="dm" x="875" y="832" width="17" height="17" rx="3"/><rect class="in" x="881" y="841" width="17" height="17" rx="3"/><text class="t td" x="880" y="877">Neighbour</text></g>
<g id="D-n2-l1"><circle class="f" cx="923" cy="874" r="6"/></g>
<g id="D-neighbour1"><circle class="m" cx="1013" cy="619" r="18"/><rect class="in" x="1004" y="611" width="17" height="17" rx="3"/><text class="t td" x="1025" y="597">Neighbour</text></g>
<g id="D-aunt1"><circle class="f" cx="1181" cy="668" r="30"/><text class="t td" x="1197" y="634">Aunt</text></g>
<g id="D-grandfather"><circle class="m" cx="1180" cy="751" r="15"/><text class="t td" x="1195" y="726">Grandfather</text></g>
<g id="D-aunt2"><circle class="f" cx="1156" cy="830" r="21"/><rect class="in" x="1150" y="822" width="17" height="17" rx="3"/><text class="t td" x="1156" y="863">Aunt</text></g>
<g id="D-aunt3"><circle class="f" cx="1082" cy="896" r="15"/><rect class="dm" x="1073" y="888" width="17" height="17" rx="3"/><text class="t td" x="1100" y="877">Aunt</text></g>
<g id="D-s-l1"><circle class="m" cx="879" cy="519" r="6"/></g>
<g id="D-s-l2"><circle class="m" cx="878" cy="534" r="6"/></g>
<g id="D-s-l3"><circle class="f" cx="893" cy="540" r="6"/></g>
<g id="D-s-l4"><circle class="m" cx="914" cy="547" r="6"/></g>
<g id="D-s-l5"><circle class="f" cx="903" cy="559" r="6"/></g>
<g id="D-s-l6"><circle class="m" cx="942" cy="567" r="6"/></g>
<g id="D-s-l7"><circle class="m" cx="935" cy="581" r="6"/></g>
<g id="D-s-l8"><circle class="f" cx="930" cy="596" r="6"/></g>
<g id="D-n1-l1"><circle class="m" cx="1126" cy="589" r="6"/></g>
<g id="D-n1-l2"><circle class="m" cx="1120" cy="607" r="6"/></g>
<g id="D-n1-l3"><circle class="f" cx="1117" cy="644" r="6"/></g>
<g id="D-n1-l4"><circle class="m" cx="1093" cy="651" r="6"/></g>
<g id="D-n1-l5"><circle class="f" cx="1040" cy="674" r="6"/></g>
<g id="D-n1-l6"><circle class="m" cx="1107" cy="676" r="6"/></g>
<g id="D-n1-l7"><circle class="m" cx="1087" cy="682" r="6"/></g>
<g id="D-n1-l8"><circle class="m" cx="1064" cy="697" r="6"/></g>
<g id="D-n1-l9"><circle class="m" cx="1087" cy="698" r="6"/></g>
<g id="D-a1-l1"><circle class="f" cx="1143" cy="561" r="6"/></g>
<g id="D-a1-l2"><circle class="f" cx="1159" cy="577" r="6"/></g>
<g id="D-a1-l3"><circle class="f" cx="1138" cy="585" r="6"/></g>
<g id="D-a1-l4"><circle class="m" cx="1182" cy="583" r="6"/></g>
<g id="D-a1-l5"><circle class="f" cx="1171" cy="598" r="6"/></g>
<g id="D-a2-l1"><circle class="f" cx="1182" cy="797" r="6"/></g>
<g id="D-a2-l2"><circle class="m" cx="1203" cy="799" r="6"/></g>
<g id="D-a2-l3"><circle class="m" cx="1201" cy="816" r="6"/></g>
<g id="D-a2-l4"><circle class="m" cx="1217" cy="826" r="6"/></g>
<g id="D-a2-l5"><circle class="f" cx="1208" cy="840" r="6"/></g>
<g id="D-a2-l6"><circle class="m" cx="1214" cy="853" r="6"/></g>
<g id="D-a2-l7"><circle class="f" cx="1196" cy="857" r="6"/></g>
<g id="D-a2-l8"><circle class="f" cx="1193" cy="872" r="6"/></g>

<!-- ===== Legend ===== -->
<g id="legend">
<ellipse cx="70" cy="1023" rx="18" ry="19" fill="#00c6c6" stroke="#2b6b6b" stroke-width="1.2"/>
<ellipse cx="72" cy="1067" rx="18" ry="20" fill="#fffcc6" stroke="#777" stroke-width="1.2"/>
<ellipse cx="70" cy="1112" rx="18" ry="19" fill="#fa8a52" stroke="#666" stroke-width="1.2"/>
<rect x="49" y="1143" width="43" height="32" rx="5" fill="#7f7f7f"/>
<rect x="49" y="1187" width="43" height="31" rx="5" fill="#d5dae3"/>
<rect x="54" y="1255" width="38" height="6" fill="#555"/>
<text class="lg" x="137" y="1022">Ego</text>
<text class="lg" x="137" y="1067">Male Alter</text>
<text class="lg" x="137" y="1111">Female Alter</text>
<text class="lg" x="137" y="1153">Decision maker</text>
<text class="lg" x="137" y="1205">Influencer</text>
<text class="lg" x="137" y="1257" textLength="270" lengthAdjust="spacingAndGlyphs">Nomination was reciprocated</text>
<line x1="429" y1="1015" x2="467" y2="1015" stroke="#555" stroke-width="1.5"/>
<circle cx="446" cy="1074" r="20" fill="#fffcc6" stroke="#d9d5a6" stroke-width="1"/>
<circle cx="458" cy="1082" r="14" fill="#fffcc6" stroke="#d9d5a6" stroke-width="1"/>
<circle cx="467" cy="1087" r="9.5" fill="#fffcc6" stroke="#d9d5a6" stroke-width="1"/>
<path d="M433,1141 C424,1126 431,1110 446,1110 C455,1110 461,1115 463,1124" fill="none" stroke="#000" stroke-width="2.5"/>
<polyline points="456,1119 463,1129 469,1118" fill="none" stroke="#000" stroke-width="2.5"/>
<rect x="445.5" y="1165.5" width="20" height="25" fill="none" stroke="#444" stroke-width="1"/>
<rect x="432.5" y="1212.5" width="19" height="19" fill="none" stroke="#000" stroke-width="3"/>
<text class="lg" x="513" y="1023" textLength="305" lengthAdjust="spacingAndGlyphs">Nomination was not reciprocated</text>
<text class="lg" x="513" y="1075" textLength="733" lengthAdjust="spacingAndGlyphs">Influencer level, increasing size corresponding with increasing level of influence</text>
<text class="lg" x="513" y="1121" textLength="375" lengthAdjust="spacingAndGlyphs">Ego nominated herself as decision maker</text>
<text class="lg" x="513" y="1173" textLength="147" lengthAdjust="spacingAndGlyphs">Same individual</text>
<text class="lg" x="513" y="1225" textLength="147" lengthAdjust="spacingAndGlyphs">Same individual</text>
</g>

<!-- ===== Caption ===== -->
<g id="caption">
<text class="cap cb" x="20" y="1290" style="font-size:20px">Fig. 1</text>
<text class="cap" x="86" y="1290" textLength="1182" lengthAdjust="spacingAndGlyphs">Women’s social network maps. Egocentric maps for each woman (ego) presented individually, with ego at the centre of their social network.</text>
<text class="cap" x="20" y="1317" textLength="1243" lengthAdjust="spacingAndGlyphs">The maps include the relationships between ego and those in her network. Individuals named as decision makers and the five influencers in issues</text>
<text class="cap" x="20" y="1343" textLength="922" lengthAdjust="spacingAndGlyphs">relating to RSH have been highlighted. Maps also include the size and gender make-up of the wider network.</text>
<text class="cap cb" x="948" y="1343">A</text>
<text class="cap" x="968" y="1343" textLength="128" lengthAdjust="spacingAndGlyphs">EGO1 nomadic;</text>
<text class="cap cb" x="1101" y="1343">B</text>
<text class="cap" x="1120" y="1343" textLength="137" lengthAdjust="spacingAndGlyphs">EGO2 nomadic;</text>
<text class="cap cb" x="20" y="1369">C</text>
<text class="cap" x="39" y="1369" textLength="175" lengthAdjust="spacingAndGlyphs">EGO3 semi nomadic;</text>
<text class="cap cb" x="217" y="1369">D</text>
<text class="cap" x="236" y="1369" textLength="175" lengthAdjust="spacingAndGlyphs">EGO4 semi nomadic</text>
</g>
</svg>
